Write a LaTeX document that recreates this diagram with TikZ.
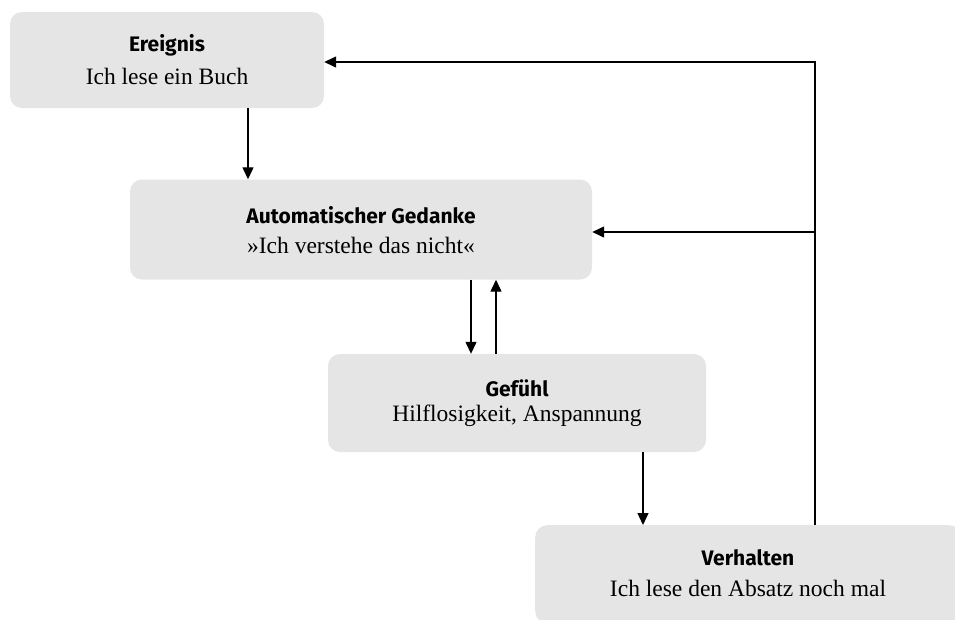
\documentclass[tikz,border=0pt]{standalone}
\usepackage{fontspec}
\setmainfont{Liberation Serif}
\newfontfamily\titlefam{Fira Sans}
\usetikzlibrary{arrows.meta}
\definecolor{boxgray}{HTML}{E5E5E5}
\tikzset{
  box/.style={fill=boxgray, rounded corners=12pt, align=center, inner sep=0pt},
  arr/.style={line width=1.3pt, -{Triangle[width=11pt,length=12pt]}},
}
\newcommand{\ttl}[1]{{\titlefam\bfseries\fontsize{21}{24}\selectfont #1}}
\newcommand{\bdy}[1]{{\fontsize{23.5}{28}\selectfont #1}}
\begin{document}
\begin{tikzpicture}[x=1pt,y=-1pt]
\useasboundingbox (0,0) rectangle (955,619);
\node[box, minimum width=314pt, minimum height=96pt] (ereig) at (167,60) {};
\node at (167,45) (t1) {\ttl{Ereignis}};
\node at (167,76) (b1) {\bdy{Ich lese ein Buch}};
\node[box, minimum width=462pt, minimum height=100pt] (ged) at (361,229.5) {};
\node at (361,215) (t2) {\ttl{Automatischer Gedanke}};
\node at (361,245) (b2) {\bdy{»Ich verstehe das nicht«}};
\node[box, minimum width=378pt, minimum height=98pt] (gef) at (517,403) {};
\node at (517,388) (t3) {\ttl{Gefühl}};
\node at (517,416) (b3) {\bdy{Hilflosigkeit, Anspannung}};
\node[box, minimum width=426pt, minimum height=98pt, anchor=north west] (verh) at (535,525) {};
\node at (748,558) (t4) {\ttl{Verhalten}};
\node at (748,588) (b4) {\bdy{Ich lese den Absatz noch mal}};
\coordinate (c1) at (248,0);
\coordinate (d1) at (471,0);
\coordinate (u1) at (496,0);
\coordinate (c3) at (643,0);
\coordinate (top) at (815,62);
\coordinate (mid) at (815,232);
\draw[arr] (ereig.south -| c1) -- (ged.north -| c1);
\draw[arr] (ged.south -| d1) -- (gef.north -| d1);
\draw[arr] (gef.north -| u1) -- (ged.south -| u1);
\draw[arr] (gef.south -| c3) -- (verh.north -| c3);
\draw[arr] (verh.north -| top) -- (top) -- (top -| ereig.east);
\draw[arr] (mid) -- (mid -| ged.east);
\end{tikzpicture}
\end{document}
